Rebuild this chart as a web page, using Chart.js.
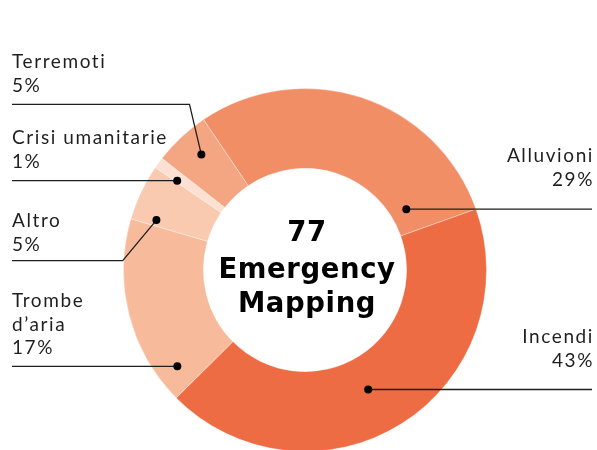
<!DOCTYPE html>
<html>
<head>
<meta charset="utf-8">
<script src="https://cdn.jsdelivr.net/npm/chart.js@4"></script>
<style>
html,body{margin:0;padding:0;background:#fff;overflow:hidden;}
#wrap{width:597px;height:450px;overflow:hidden;position:relative;}
canvas{display:block;}
</style>
</head>
<body>
<div id="wrap"><canvas id="c" width="597" height="470"></canvas></div>
<script>
// ---- data ----
const categories = ['Alluvioni', 'Incendi', 'Trombe d’aria', 'Altro', 'Crisi umanitarie', 'Terremoti'];
const values = [29, 43, 17, 5, 1, 5];
const labelText = [['Alluvioni'], ['Incendi'], ['Trombe', 'd’aria'], ['Altro'], ['Crisi umanitarie'], ['Terremoti']];
const colors = ['#F28E65', '#ED6C43', '#F7BB9C', '#F9C9B0', '#FCE0D2', '#F4A582'];
const centerLines = ['77', 'Emergency', 'Mapping'];

// ---- label layout (annotation placement) ----
// t: position along arc (0..1), rf: position across ring (0..1)
const labelLayout = [
  {side: 'right', baseline: 162.3, t: 0.891, rf: 0.207},
  {side: 'right', baseline: 343.3, t: 0.528, rf: 0.42},
  {side: 'left', baseline: 306.7, t: 0.127, rf: 0.73},
  {side: 'left', baseline: 226.7, t: 0.12, rf: 0.69, lineY: 260.7, elbowX: 122.7},
  {side: 'left', baseline: 144.3, t: 0.15, rf: 0.68},
  {side: 'left', baseline: 68.3, t: 0.56, rf: 0.67, lineY: 104.3, elbowX: 189.5}
];

const LABEL_FONT = '400 19px Lato';
const LINE_H = 23.8;
const LEFT_X = 12;
const RIGHT_X = 592;
const INK = '#1f1f1f';

const labelPlugin = {
  id: 'labels',
  afterDraw(chart) {
    const ctx = chart.ctx;
    const arcs = chart.getDatasetMeta(0).data;
    ctx.save();
    // center text
    const a0 = arcs[0];
    const cx = a0.x;
    ctx.fillStyle = '#000';
    ctx.font = '700 27.5px "DejaVu Sans"';
    ctx.textAlign = 'center';
    ctx.textBaseline = 'alphabetic';
    try { ctx.letterSpacing = '0.6px'; } catch (e) {}
    const cb = [241, 278, 312];
    centerLines.forEach((s, i) => ctx.fillText(s, cx + 2, cb[i]));

    // labels
    try { ctx.letterSpacing = '1.6px'; } catch (e) {}
    ctx.font = LABEL_FONT;
    ctx.strokeStyle = INK;
    ctx.lineWidth = 1.3;
    arcs.forEach((arc, i) => {
      const L = labelLayout[i];
      const p = arc.getProps(['x', 'y', 'startAngle', 'endAngle', 'innerRadius', 'outerRadius'], true);
      const ang = p.startAngle + L.t * (p.endAngle - p.startAngle);
      const r = p.innerRadius + L.rf * (p.outerRadius - p.innerRadius);
      const dx = p.x + r * Math.cos(ang);
      const dy = p.y + r * Math.sin(ang);
      const lines = labelText[i].concat([values[i] + '%']);
      ctx.fillStyle = INK;
      ctx.textAlign = L.side === 'left' ? 'left' : 'right';
      lines.forEach((s, k) => {
        ctx.fillText(s, L.side === 'left' ? LEFT_X : RIGHT_X + 2, L.baseline + k * LINE_H);
      });
      ctx.beginPath();
      if (L.elbowX !== undefined) {
        ctx.moveTo(LEFT_X, L.lineY);
        ctx.lineTo(L.elbowX, L.lineY);
        ctx.lineTo(dx, dy);
      } else if (L.side === 'left') {
        ctx.moveTo(LEFT_X, dy);
        ctx.lineTo(dx, dy);
      } else {
        ctx.moveTo(dx, dy);
        ctx.lineTo(RIGHT_X, dy);
      }
      ctx.stroke();
      ctx.beginPath();
      ctx.arc(dx, dy, 4, 0, Math.PI * 2);
      ctx.fillStyle = '#000';
      ctx.fill();
    });
    ctx.restore();
  }
};

new Chart(document.getElementById('c'), {
  type: 'doughnut',
  data: {
    labels: categories,
    datasets: [{
      data: values,
      backgroundColor: colors,
      borderColor: 'rgba(255,255,255,0.35)',
      borderWidth: 1,
      hoverOffset: 0
    }]
  },
  options: {
    responsive: false,
    devicePixelRatio: 1,
    animation: false,
    rotation: -34,
    cutout: '56%',
    layout: {padding: {left: 123, right: 110, top: 88, bottom: 18}},
    plugins: {legend: {display: false}, tooltip: {enabled: false}}
  },
  plugins: [labelPlugin]
});
</script>
</body>
</html>
